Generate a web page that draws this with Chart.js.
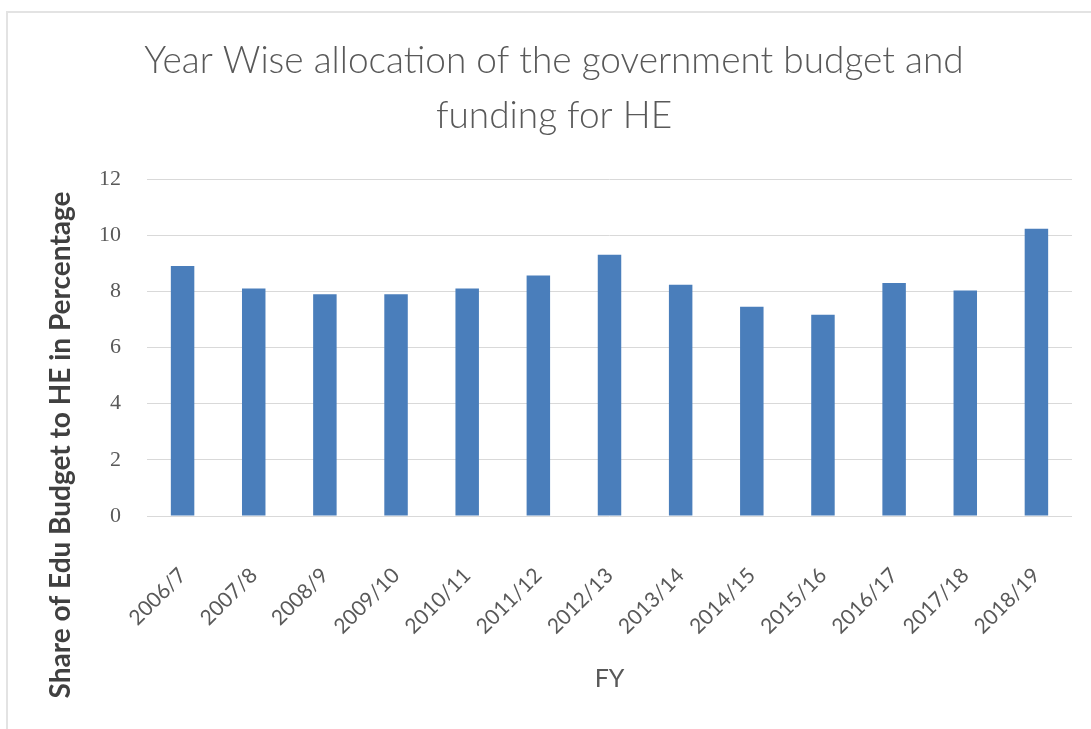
<!DOCTYPE html>
<html>
<head>
<meta charset="utf-8">
<script src="https://cdn.jsdelivr.net/npm/chart.js@4"></script>
<style>
  html, body { margin: 0; padding: 0; background: #fff; }
  #wrap { position: absolute; left: 6px; top: 11px; width: 1085px; height: 718px;
          border-left: 2px solid #e3e3e3; border-top: 2px solid #e3e3e3; box-sizing: border-box; }
  #box { position: absolute; left: 0; top: 0; width: 1091px; height: 729px; }
</style>
</head>
<body>
<div id="wrap"></div>
<div id="box"><canvas id="budgetChart" width="1091" height="729"></canvas></div>
<script>
const years = ["2006/7", "2007/8", "2008/9", "2009/10", "2010/11", "2011/12", "2012/13",
               "2013/14", "2014/15", "2015/16", "2016/17", "2017/18", "2018/19"];
const heShare = [8.9, 8.1, 7.9, 7.9, 8.1, 8.56, 9.3, 8.23, 7.45, 7.17, 8.3, 8.03, 10.23];
const yTicks = [0, 2, 4, 6, 8, 10, 12];
const yTitle = "Share of Edu Budget to HE in Percentage";

const font = "Lato, 'Open Sans', sans-serif";

// the y title sits lower than the plot centre, as in the original sheet
const yTitlePlugin = {
  id: "yTitle",
  afterDraw(chart) {
    const c = chart.ctx;
    c.save();
    c.translate(61, 445);
    c.rotate(-Math.PI / 2);
    c.font = "bold 28px " + font;
    c.fillStyle = "#404040";
    c.textAlign = "center";
    c.textBaseline = "middle";
    c.fillText(yTitle, 0, 0);
    c.restore();
  },
};

const ctx = document.getElementById("budgetChart");
new Chart(ctx, {
  type: "bar",
  data: {
    labels: years,
    datasets: [
      {
        label: "Share",
        data: heShare,
        backgroundColor: "#4a7ebb",
        borderWidth: 0,
        barPercentage: 0.66,
        categoryPercentage: 0.5,
      },
    ],
  },
  options: {
    responsive: false,
    animation: false,
    layout: { padding: { left: 36, right: 19, top: 10, bottom: 20 } },
    plugins: {
      legend: { display: false },
      tooltip: { enabled: false },
      title: {
        display: true,
        text: ["Year Wise allocation of the government budget and", "funding for HE"],
        color: "#595959",
        font: { family: font, size: 37, weight: 300, lineHeight: 55 / 37 },
        padding: { top: 24, bottom: 35 },
      },
    },
    scales: {
      y: {
        min: 0,
        max: 12,
        afterBuildTicks: (s) => { s.ticks = yTicks.map((v) => ({ value: v })); },
        afterFit: (s) => { s.width = 111; s.paddingTop = 0; s.paddingBottom = 0; },
        border: { display: false },
        grid: { color: "#d9d9d9", lineWidth: 1, drawTicks: false },
        ticks: { color: "#595959", font: { family: "'Liberation Serif', serif", size: 22 }, padding: 26 },
      },
      x: {
        afterFit: (s) => { s.height = 193; s.paddingLeft = 0; s.paddingRight = 0; },
        border: { display: false },
        grid: { display: false, drawTicks: false },
        ticks: {
          color: "#595959",
          font: { family: font, size: 21 },
          minRotation: 45,
          maxRotation: 45,
          padding: 47,
        },
        title: {
          display: true,
          text: "FY",
          color: "#595959",
          font: { family: font, size: 25 },
          padding: { top: 0, bottom: 15 },
        },
      },
    },
  },
  plugins: [yTitlePlugin],
});
</script>
</body>
</html>
